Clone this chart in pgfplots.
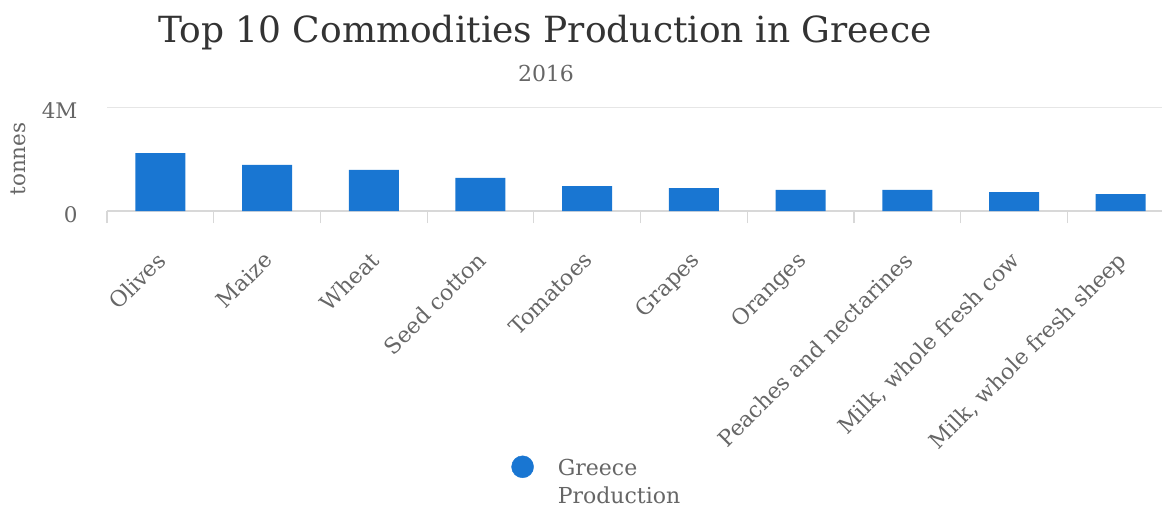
\documentclass[border=0pt]{standalone}
\usepackage{fontspec}
\setmainfont{DejaVu Serif}
\usepackage{pgfplots}
\pgfplotsset{compat=1.18}
\definecolor{barblue}{HTML}{1976D2}
\definecolor{txt}{HTML}{666666}
\definecolor{ttl}{HTML}{333333}
\definecolor{gridc}{HTML}{E6E6E6}
\definecolor{axc}{HTML}{D8D8D8}
\begin{document}
\begin{tikzpicture}[x=1pt,y=1pt]
\useasboundingbox (0,0) rectangle (1162,506);
\begin{axis}[
  at={(107pt,295pt)}, anchor=south west,
  scale only axis, width=1067pt, height=104pt,
  xmin=-0.5, xmax=9.5, ymin=0, ymax=4000000,
  ybar, bar width=50pt,
  axis x line*=bottom, axis y line*=left,
  x axis line style={draw=axc, line width=1.2pt},
  y axis line style={draw=none},
  ymajorgrids, major grid style={draw=gridc, line width=1pt},
  ytick={0,4000000}, yticklabels={0,4M},
  scaled y ticks=false,
  ytick style={draw=none},
  yticklabel style={font=\fontsize{21.5}{24}\selectfont, text=txt, xshift=-26pt, yshift=-4pt},
  xtick={0,...,9},
  xticklabels={Olives,Maize,Wheat,Seed cotton,Tomatoes,Grapes,Oranges,Peaches and nectarines,{Milk, whole fresh cow},{Milk, whole fresh sheep}},
  xtick style={draw=none},
  xticklabel style={xshift=-5pt, yshift=-30pt, font=\fontsize{22}{24}\selectfont, text=txt, rotate=45, anchor=north east},
  extra x ticks={-0.5,0.5,...,9.5},
  extra x tick labels={},
  extra x tick style={grid=none, xtick style={draw=axc, line width=1.2pt}, major tick length=12pt, tick align=outside},
  ylabel={tonnes},
  ylabel style={at={(axis description cs:-0.0834,0.5)}, anchor=center, font=\fontsize{21.5}{24}\selectfont, text=txt},
  legend style={at={(axis description cs:0.3788,-2.35)}, anchor=north west, draw=none, fill=none,
    font=\fontsize{22}{28}\selectfont, text=txt, cells={align=left}, inner sep=0pt, column sep=22pt},
]
\addplot[fill=barblue, draw=none, forget plot, bar shift=0pt] coordinates {
 (0,2230000) (1,1770000) (2,1580000) (3,1270000) (4,960000)
 (5,880000) (6,810000) (7,810000) (8,730000) (9,650000)};
\addlegendimage{legend image code/.code={\fill[barblue] (11pt,15pt) circle (11pt);}}
\addlegendentry{Greece\\Production}
\end{axis}
\node[anchor=base, font=\fontsize{36}{40}\selectfont, text=ttl] at (545,463) {Top 10 Commodities Production in Greece};
\node[anchor=base, font=\fontsize{22}{24}\selectfont, text=txt] at (546,424) {2016};
\end{tikzpicture}
\end{document}
